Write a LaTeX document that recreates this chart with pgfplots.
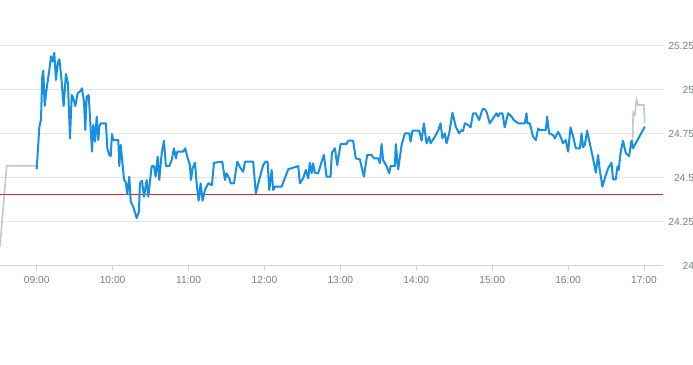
\documentclass[border=0pt]{standalone}
\usepackage{fontspec}
\setmainfont{Liberation Sans}
\usepackage{pgfplots}
\pgfplotsset{compat=1.18}
\definecolor{blueline}{RGB}{22,144,226}
\definecolor{greyline}{RGB}{190,200,208}
\definecolor{redline}{RGB}{214,40,40}
\definecolor{gridgray}{RGB}{228,230,234}
\definecolor{axisgray}{RGB}{204,214,228}
\definecolor{labelgray}{RGB}{118,128,140}
\begin{document}
\begin{tikzpicture}
\path[use as bounding box] (0bp,0bp) rectangle (693bp,365bp);
\begin{axis}[
  at={(0bp,99.3bp)}, anchor=south west,
  scale only axis, width=663bp, height=264bp,
  xmin=-29, xmax=495, ymin=24, ymax=25.5,
  axis x line*=bottom, axis y line*=right,
  x axis line style={draw=axisgray, line width=1bp},
  y axis line style={draw=none},
  ytick={24,24.25,24.5,24.75,25,25.25},
  xtick={0,60,120,180,240,300,360,420,480},
  xticklabels={09:00,10:00,11:00,12:00,13:00,14:00,15:00,16:00,17:00},
  ymajorgrids, grid style={draw=gridgray, line width=1bp},
  ytick style={draw=none},
  xtick style={draw=axisgray, line width=1bp},
  tick align=outside, major tick length=5bp,
  /pgf/number format/assume math mode=true,
  ticklabel style={font=\fontsize{10.3}{12}\selectfont, text=labelgray},
  yticklabel style={anchor=east, xshift=29.5bp},
  xticklabel style={yshift=-2bp},
  clip=true,
]
\addplot[draw=greyline, line width=1.6bp] coordinates {
(-29,24.108) (-23.7,24.568) (-0.5,24.568) (0,24.548)
};
\addplot[draw=greyline, line width=1.6bp] coordinates {
(470.9,24.673) (471.4,24.87) (472.7,24.856) (474.0,24.945) (475.3,24.913) (479.8,24.913) (480.6,24.81)
};
\addplot[draw=redline, line width=1bp] coordinates {(-29,24.407) (495,24.407)};
\addplot[draw=blueline, line width=2bp, line join=round] coordinates {
(0,24.548) (2.1,24.79) (3.4,24.83) (4.4,25.074) (5.2,25.108) (6.3,24.907) (7.9,25.008)
(10.0,25.112) (11.3,25.19) (12.6,25.16) (13.9,25.21) (15.2,25.055) (16.6,25.15) (17.9,25.173)
(19.4,25.074) (21.3,24.907) (23.1,25.089) (24.7,25.036) (26.3,24.724) (27.7,24.97) (28.9,24.951)
(30.5,24.907) (32.4,24.98) (34.2,24.989) (35.8,25.008) (37.4,24.932) (38.4,24.771) (39.5,24.96)
(41.1,24.97) (42.7,24.771) (43.7,24.648) (44.7,24.80) (46.1,24.705) (47.4,24.847) (48.7,24.714)
(49.5,24.79) (50.6,24.809) (54.7,24.809) (55.8,24.667) (57.4,24.629) (58.5,24.623) (59.5,24.748)
(60.5,24.714) (64.5,24.714) (65.3,24.566) (66.4,24.686) (69.0,24.491) (70.5,24.472) (71.6,24.407)
(73.2,24.506) (74.3,24.364) (76.3,24.335) (79.0,24.27) (80.8,24.307) (81.6,24.468) (83.2,24.483)
(84.8,24.392) (86.9,24.487) (88.2,24.392) (90.9,24.566) (92.7,24.566) (94.0,24.506) (95.6,24.62)
(96.9,24.487) (98.8,24.64) (100.6,24.71) (102.1,24.566) (104.8,24.566) (106.7,24.60) (108.5,24.667)
(110.0,24.61) (111.1,24.648) (115.8,24.648) (117.4,24.667) (119.0,24.62) (121.1,24.572) (121.9,24.487)
(123.2,24.553) (125.1,24.585) (126.4,24.468) (128.0,24.369) (129.6,24.468) (131.1,24.369) (133.0,24.43)
(135.6,24.468) (138.5,24.458) (140.1,24.585) (146.7,24.591) (148.8,24.487) (150.1,24.525) (152.2,24.497)
(153.3,24.468) (155.9,24.468) (158.5,24.591) (161.2,24.553) (163.2,24.534) (164.6,24.591) (171.1,24.591)
(173.2,24.411) (175.8,24.487) (179.0,24.572) (180.9,24.591) (182.5,24.591) (183.8,24.43) (185.7,24.544)
(186.9,24.43) (188.3,24.449) (193.6,24.449) (198.8,24.548) (206.7,24.566) (208.0,24.468) (210.6,24.497)
(212.7,24.544) (214.6,24.497) (215.9,24.585) (217.3,24.525) (218.5,24.582) (219.9,24.528) (222.5,24.525)
(225.2,24.591) (227.0,24.629) (229.1,24.506) (232.3,24.506) (233.3,24.642) (235.7,24.667) (237.5,24.572)
(240.2,24.691) (244.9,24.691) (246.2,24.71) (250.1,24.71) (252.2,24.61) (255.4,24.604) (258.6,24.506)
(261.2,24.629) (264.7,24.629) (266.5,24.61) (269.9,24.61) (271.2,24.582) (272.6,24.691) (273.8,24.60)
(276.5,24.566) (278.6,24.525) (279.7,24.566) (283.1,24.566) (283.8,24.691) (285.7,24.548) (288.4,24.686)
(291.0,24.752) (294.4,24.752) (295.5,24.705) (297.0,24.767) (302.3,24.767) (304.2,24.71) (306.0,24.809)
(308.1,24.695) (310.2,24.733) (311.3,24.695) (314.7,24.733) (317.3,24.767) (319.2,24.809) (320.7,24.724)
(322.6,24.752) (323.9,24.695) (326.0,24.752) (328.6,24.869) (331.2,24.79) (333.9,24.752) (335.7,24.771)
(337.0,24.766) (338.4,24.809) (341.0,24.80) (342.9,24.786) (344.9,24.866) (347.1,24.866) (349.7,24.828)
(352.3,24.889) (354.2,24.889) (355.5,24.875) (358.1,24.809) (360.7,24.837) (363.4,24.866) (364.7,24.847)
(366.0,24.866) (368.1,24.866) (369.9,24.786) (372.6,24.866) (375.3,24.847) (377.1,24.828) (380.5,24.809)
(385.8,24.809) (387.1,24.866) (387.9,24.809) (389.7,24.809) (392.3,24.733) (394.5,24.714) (396.3,24.78)
(397.6,24.771) (402.4,24.771) (403.4,24.847) (405.0,24.752) (408.1,24.742) (409.5,24.724) (412.1,24.761)
(414.0,24.733) (416.0,24.695) (418.1,24.714) (420.0,24.648) (421.9,24.786) (424.0,24.733) (426.1,24.667)
(429.3,24.667) (430.6,24.752) (431.8,24.673) (433.2,24.686) (435.0,24.767) (437.7,24.676) (439.7,24.61)
(441.9,24.528) (443.7,24.629) (445.0,24.544) (447.1,24.449) (449.0,24.497) (451.6,24.553) (454.3,24.585)
(455.5,24.491) (457.7,24.491) (459.0,24.563) (460.0,24.544) (461.4,24.639) (463.4,24.71) (465.6,24.639)
(468.2,24.623) (470.1,24.71) (471.3,24.667) (480.6,24.79)
};
\end{axis}
\end{tikzpicture}
\end{document}
